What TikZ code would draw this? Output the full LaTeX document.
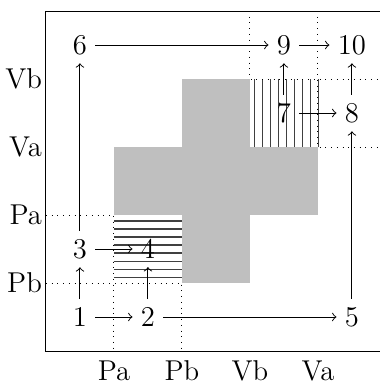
\documentclass[tikz,border=0pt]{standalone}
\begin{document}
\begin{tikzpicture}[x=1cm,y=1cm,
  every node/.style={font=\large},
  hatch/.style={black!75, line width=0.6pt},
  guide/.style={dotted},
  leftlab/.style={anchor=east, inner sep=1.5pt},
  botlab/.style={anchor=north, inner sep=1pt, yshift=-3pt},
  ->]
\useasboundingbox (-1.176,-0.971) rectangle (4.412,4.662);
% grey cross
\fill[lightgray, draw=none] (0.5,1.5) rectangle (3.5,2.5);
\fill[lightgray, draw=none] (1.5,0.5) rectangle (2.5,3.5);
% hatched regions
\foreach \k in {0,...,7}
  \draw[hatch, -] (0.5,{1.41-\k*0.118}) -- (1.5,{1.41-\k*0.118});
\foreach \k in {0,...,8}
  \draw[hatch, -] ({2.563+\k*0.118},2.5) -- ({2.563+\k*0.118},3.5);
% dotted guides
\draw[guide, -] (-0.5,1.5) -| (0.5,-0.5);
\draw[guide, -] (-0.5,0.5) -| (1.5,-0.5);
\draw[guide, -] (2.5,4.5) |- (4.5,3.5);
\draw[guide, -] (3.5,4.5) |- (4.5,2.5);
% frame
\draw[-] (-0.5,-0.5) rectangle (4.5,4.5);
% axis labels
\node[leftlab] (lVb) at (-0.5,3.5) {Vb};
\node[leftlab] (lVa) at (-0.5,2.5) {Va};
\node[leftlab] (lPa) at (-0.5,1.5) {Pa};
\node[leftlab] (lPb) at (-0.5,0.5) {Pb};
\node[botlab] (bPa) at (0.5,-0.5) {Pa};
\node[botlab] (bPb) at (1.5,-0.5) {Pb};
\node[botlab] (bVb) at (2.5,-0.5) {Vb};
\node[botlab] (bVa) at (3.5,-0.5) {Va};
% states
\node (n1) at (0,0) {1};
\node (n2) at (1,0) {2};
\node (n3) at (0,1) {3};
\node (n4) at (1,1) {4};
\node (n5) at (4,0) {5};
\node (n6) at (0,4) {6};
\node (n7) at (3,3) {7};
\node (n8) at (4,3) {8};
\node (n9) at (3,4) {9};
\node (n10) at (4,4) {10};
% transitions
\draw (n1) -- (n2);
\draw (n2) -- (n5);
\draw (n1) -- (n3);
\draw (n3) -- (n6);
\draw (n3) -- (n4);
\draw (n2) -- (n4);
\draw (n6) -- (n9);
\draw (n9) -- (n10);
\draw (n7) -- (n9);
\draw (n7) -- (n8);
\draw (n8) -- (n10);
\draw (n5) -- (n8);
\end{tikzpicture}
\end{document}
